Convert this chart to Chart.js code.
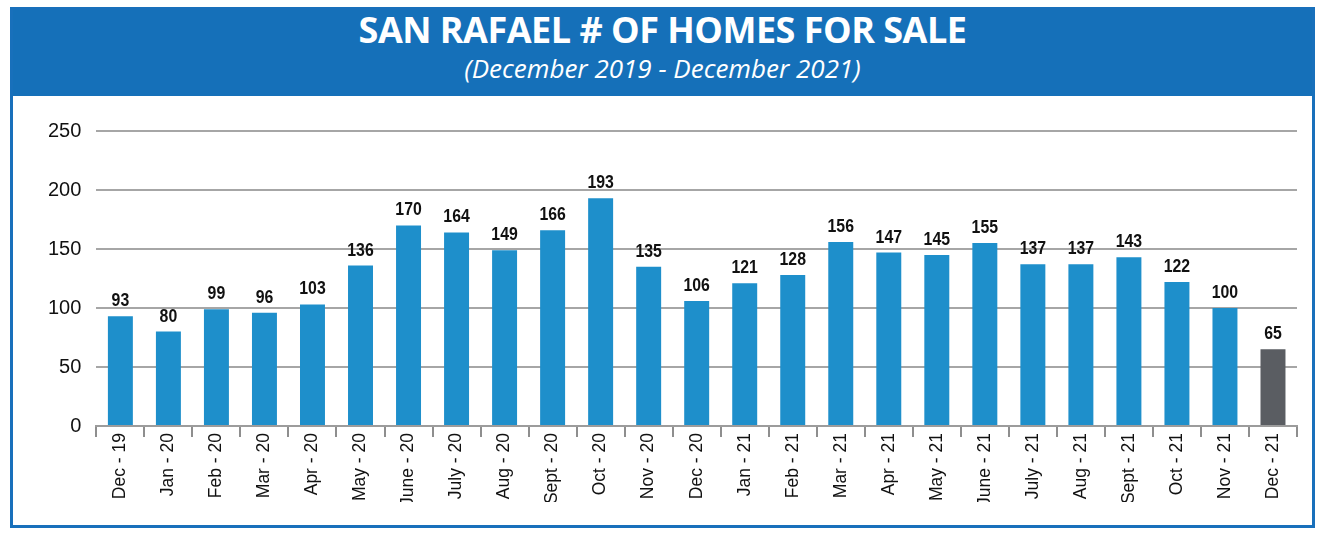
<!DOCTYPE html>
<html>
<head>
<meta charset="utf-8">
<script src="https://cdn.jsdelivr.net/npm/chart.js"></script>
<style>
    html, body { margin: 0; padding: 0; background: #fff; }
    body { width: 1319px; height: 536px; position: relative; overflow: hidden; }
    .frame {
        position: absolute; left: 10px; top: 7px; width: 1299px; height: 515px;
        border: 3px solid #1870bb; background: #fff;
    }
    .header {
        position: absolute; left: 0; top: 0; right: 0; height: 86px;
        background: #1570b9; color: #fff; text-align: center;
        font-family: "Open Sans", sans-serif;
    }
    .header h1 { margin: 0; padding-top: 0; font-size: 36px; font-weight: 700; letter-spacing: -0.5px; line-height: 40px; }
    .header p { margin: 3px 0 0 0; font-size: 26px; font-style: italic; line-height: 30px; }
    .chart-box { position: absolute; left: 0; top: 88px; width: 1299px; height: 427px; }
</style>
</head>
<body>
<div class="frame">
    <div class="header">
        <h1>SAN RAFAEL # OF HOMES FOR SALE</h1>
        <p>(December 2019 - December 2021)</p>
    </div>
    <div class="chart-box"><canvas id="homes-chart"></canvas></div>
</div>
<script>
const months = ['Dec - 19', 'Jan - 20', 'Feb - 20', 'Mar - 20', 'Apr - 20', 'May - 20', 'June - 20',
    'July - 20', 'Aug - 20', 'Sept - 20', 'Oct - 20', 'Nov - 20', 'Dec - 20', 'Jan - 21', 'Feb - 21',
    'Mar - 21', 'Apr - 21', 'May - 21', 'June - 21', 'July - 21', 'Aug - 21', 'Sept - 21', 'Oct - 21',
    'Nov - 21', 'Dec - 21'];
const homesForSale = [93, 80, 99, 96, 103, 136, 170, 164, 149, 166, 193, 135, 106, 121, 128,
    156, 147, 145, 155, 137, 137, 143, 122, 100, 65];
const yTicks = [0, 50, 100, 150, 200, 250];

// last month highlighted in gray
const barColors = homesForSale.map((v, i) => i === homesForSale.length - 1 ? '#5a5d62' : '#1e8fcb');

const valueLabels = {
    id: 'valueLabels',
    afterDatasetsDraw(chart) {
        const ctx = chart.ctx;
        const meta = chart.getDatasetMeta(0);
        ctx.save();
        ctx.font = 'bold 18px "Liberation Sans", Arial, sans-serif';
        ctx.fillStyle = '#111';
        ctx.textAlign = 'center';
        ctx.textBaseline = 'bottom';
        meta.data.forEach((bar, i) => {
            // slightly condensed, like the original narrow font
            ctx.save();
            ctx.translate(bar.x, bar.y - 6);
            ctx.scale(0.88, 1);
            ctx.fillText(homesForSale[i], 0, 0);
            ctx.restore();
        });
        ctx.restore();
    }
};

const ctx = document.getElementById('homes-chart').getContext('2d');
new Chart(ctx, {
    type: 'bar',
    data: {
        labels: months,
        datasets: [{
            data: homesForSale,
            backgroundColor: barColors,
            barPercentage: 0.52,
            categoryPercentage: 1
        }]
    },
    options: {
        responsive: true,
        maintainAspectRatio: false,
        animation: false,
        layout: { padding: { top: 33, right: 15, bottom: 23, left: 20 } },
        plugins: {
            legend: { display: false },
            tooltip: { enabled: false }
        },
        scales: {
            x: {
                offset: true,
                grid: {
                    offset: true,
                    drawOnChartArea: false,
                    color: '#8e8e8e',
                    lineWidth: 2,
                    tickLength: 11
                },
                border: { color: '#9c9c9c', width: 2 },
                ticks: {
                    color: '#111',
                    font: { family: '"Liberation Sans", Arial, sans-serif', size: 17.5 },
                    maxRotation: 90,
                    minRotation: 90,
                    padding: -4
                }
            },
            y: {
                min: 0,
                max: 250,
                afterBuildTicks(axis) { axis.ticks = yTicks.map(v => ({ value: v })); },
                grid: { color: '#a6a6a6', lineWidth: 2, drawTicks: false },
                border: { display: false },
                ticks: {
                    color: '#111',
                    font: { family: '"Liberation Sans", Arial, sans-serif', size: 20 },
                    padding: 15
                }
            }
        }
    },
    plugins: [valueLabels]
});
</script>
</body>
</html>
